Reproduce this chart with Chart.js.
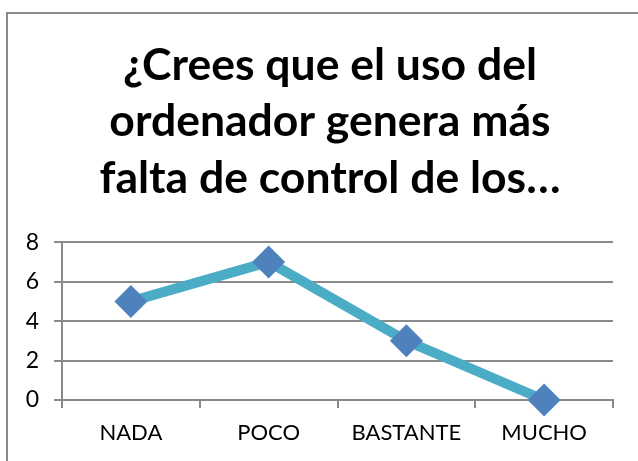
<!DOCTYPE html>
<html>
<head>
<meta charset="utf-8">
<script src="https://cdn.jsdelivr.net/npm/chart.js@4"></script>
<style>
  html, body { margin: 0; padding: 0; background: #fff; overflow: hidden; }
  #wrap { position: relative; width: 638px; height: 461px; }
  #frame { position: absolute; left: 6px; top: 12px; width: 700px; height: 500px; border: 2px solid #8a8a8a; box-sizing: border-box; }
  canvas { position: absolute; left: 0; top: 0; }
</style>
</head>
<body>
<div id="wrap">
  <div id="frame"></div>
  <canvas id="chart" width="638" height="461"></canvas>
</div>
<script>
// datos de la encuesta
var titleLines = ['¿Crees que el uso del', 'ordenador genera más', 'falta de control de los…'];
var categories = ['NADA', 'POCO', 'BASTANTE', 'MUCHO'];
var respuestas = [5, 7, 3, 0];
var yTicks = [0, 2, 4, 6, 8];

var gridColor = '#8a8a8a';

var chart = new Chart(document.getElementById('chart').getContext('2d'), {
  type: 'line',
  data: {
    labels: categories,
    datasets: [{
      data: respuestas,
      borderColor: '#4BACC6',
      borderWidth: 10,
      pointStyle: 'rectRot',
      pointRadius: 16.5,
      pointHoverRadius: 16.5,
      pointBackgroundColor: '#4F81BD',
      pointBorderColor: '#4F81BD',
      pointBorderWidth: 0,
      tension: 0,
      clip: false
    }]
  },
  options: {
    responsive: false,
    animation: false,
    layout: { padding: { left: 22, right: 0, top: 0, bottom: 0 } },
    plugins: {
      legend: { display: false },
      tooltip: { enabled: false },
      title: {
        display: true,
        text: titleLines,
        color: '#000',
        font: { family: 'Lato', size: 44.5, weight: 'bold', lineHeight: 1.26 },
        padding: { top: 38, bottom: 36 }
      }
    },
    scales: {
      x: {
        offset: true,
        grid: { offset: true, drawOnChartArea: false, drawTicks: true, tickLength: 8, color: gridColor, lineWidth: 2 },
        border: { display: true, color: gridColor, width: 2 },
        ticks: { color: '#000', font: { family: 'Lato', size: 22 }, padding: 12, maxRotation: 0 },
        afterFit: function (scale) { scale.height = 61; }
      },
      y: {
        min: 0,
        max: 8,
        afterBuildTicks: function (scale) {
          scale.ticks = yTicks.map(function (v) { return { value: v }; });
        },
        grid: { drawTicks: true, tickLength: 8, color: gridColor, lineWidth: 2 },
        border: { display: true, color: gridColor, width: 2 },
        ticks: { color: '#000', font: { family: 'Lato', size: 23 }, padding: 15 },
        afterFit: function (scale) { scale.width = 40; }
      },
      // eje vacio a la derecha, solo para dejar el margen
      y2: {
        position: 'right',
        display: true,
        grid: { display: false, drawTicks: false },
        border: { display: false },
        ticks: { display: false },
        afterFit: function (scale) { scale.width = 25; }
      }
    }
  }
});
</script>
</body>
</html>
